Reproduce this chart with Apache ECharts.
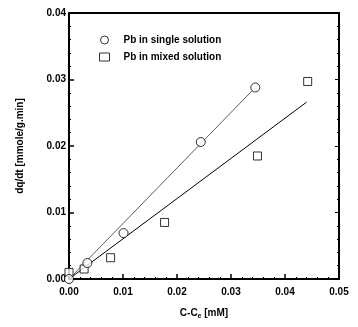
<!DOCTYPE html>
<html><head><meta charset="utf-8">
<script src="https://cdn.jsdelivr.net/npm/echarts@6/dist/echarts.min.js"></script>
<style>html,body{margin:0;padding:0;background:#fff}#c{width:358px;height:327px}</style>
</head><body><div id="c"></div>
<script>
const singleX = [0, 0.0034, 0.0101, 0.0244, 0.0345];
const singleY = [0, 0.0024, 0.0069, 0.0206, 0.0288];
const mixedX = [0, 0.0028, 0.0077, 0.0177, 0.0349, 0.0442];
const mixedY = [0.001, 0.0015, 0.0032, 0.0085, 0.0185, 0.0297];
const singleFitX = [0, 0.0345];
const singleFitY = [0, 0.0288];
const mixedFitX = [0, 0.0440];
const mixedFitY = [0, 0.0266];
const xTicks = ['0.00','0.01','0.02','0.03','0.04','0.05'];
const yTicks = ['0.00','0.01','0.02','0.03','0.04'];
const seriesNames = ['Pb in single solution', 'Pb in mixed solution'];

const zip = (a, b) => a.map((v, i) => [v, b[i]]);
const font = 'Liberation Sans, Arial, sans-serif';
const lab = {color:'#000', fontFamily:font, fontWeight:'bold', fontSize:10};
const chart = echarts.init(document.getElementById('c'), null, {renderer:'canvas'});
chart.setOption({
  animation:false,
  backgroundColor:'#fff',
  grid:{left:69, right:19, top:13, bottom:48},
  legend:{
    left:94, top:30, orient:'vertical', itemGap:7, itemWidth:10, itemHeight:8,
    textStyle:Object.assign({}, lab, {fontSize:10, padding:[0,0,0,9]}),
    data:[
      {name:seriesNames[0], icon:'circle', itemStyle:{color:'#fff', borderColor:'#000', borderWidth:1}},
      {name:seriesNames[1], icon:'rect', itemStyle:{color:'#fff', borderColor:'#000', borderWidth:1}}
    ]
  },
  xAxis:[{
    type:'value', min:0, max:0.05, interval:0.01,
    axisLine:{onZero:false, lineStyle:{color:'#000', width:2}},
    axisTick:{inside:true, length:5, lineStyle:{color:'#000', width:1.5}},
    minorTick:{show:true, splitNumber:5, length:2, lineStyle:{color:'#000'}},
    splitLine:{show:false},
    axisLabel:Object.assign({}, lab, {margin:8, formatter:(v)=>xTicks[Math.round(v*100)]}),
    name:'{a|C-C}{b|e}{a| [mM]}', nameLocation:'middle', nameGap:28,
    nameTextStyle:{rich:{a:Object.assign({}, lab), b:Object.assign({}, lab, {fontSize:7, padding:[6,0,0,0]})}}
  },{
    type:'value', min:0, max:0.05, interval:0.01, position:'top',
    axisLine:{show:true, onZero:false, lineStyle:{color:'#000', width:2}},
    axisTick:{show:false}, axisLabel:{show:false}, splitLine:{show:false}
  }],
  yAxis:[{
    type:'value', min:0, max:0.04, interval:0.01,
    axisLine:{show:true, onZero:false, lineStyle:{color:'#000', width:2}},
    axisTick:{show:true, inside:true, length:5, lineStyle:{color:'#000', width:1.5}},
    minorTick:{show:true, splitNumber:5, length:2, lineStyle:{color:'#000'}},
    splitLine:{show:false},
    axisLabel:Object.assign({}, lab, {margin:3, formatter:(v)=>yTicks[Math.round(v*100)]}),
    name:'dq/dt [mmole/g.min]', nameLocation:'middle', nameGap:44,
    nameTextStyle:Object.assign({}, lab)
  },{
    type:'value', min:0, max:0.04, interval:0.01, position:'right',
    axisLine:{show:true, onZero:false, lineStyle:{color:'#000', width:2}},
    axisTick:{show:true, inside:true, length:4, lineStyle:{color:'#000'}},
    minorTick:{show:true, splitNumber:5, length:2, lineStyle:{color:'#000'}},
    axisLabel:{show:false}, splitLine:{show:false}
  }],
  series:[
    {type:'line', data:zip(singleFitX, singleFitY), symbol:'none', silent:true,
     lineStyle:{color:'#333', width:0.8}, z:1},
    {type:'line', data:zip(mixedFitX, mixedFitY), symbol:'none', silent:true,
     lineStyle:{color:'#000', width:1}, z:1},
    {name:seriesNames[0], type:'scatter', data:zip(singleX, singleY), symbol:'circle', symbolSize:9,
     itemStyle:{color:'#fff', borderColor:'#000', borderWidth:1}, z:3},
    {name:seriesNames[1], type:'scatter', data:zip(mixedX, mixedY), symbol:'rect', symbolSize:8,
     itemStyle:{color:'#fff', borderColor:'#000', borderWidth:1}, z:2}
  ]
});
</script></body></html>
